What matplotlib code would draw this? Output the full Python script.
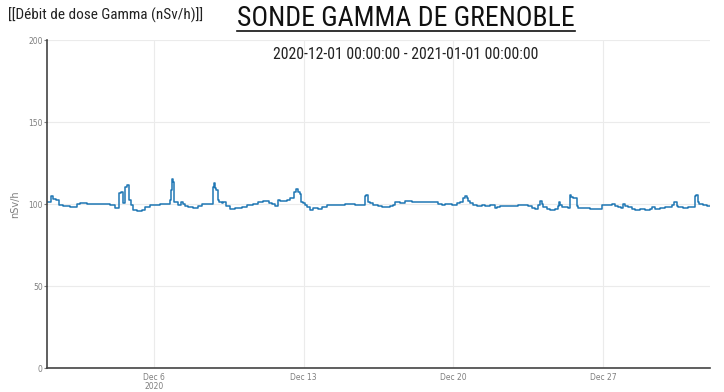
import numpy as np
import matplotlib.pyplot as plt
from matplotlib.lines import Line2D

NARROW = ['Roboto Condensed', 'Liberation Sans Narrow', 'DejaVu Sans']

# step starts, in days since 2020-12-01, and dose rate (nSv/h)
days = [0.00, 0.19, 0.28, 0.40, 0.56, 0.75, 1.08, 1.40, 1.54, 1.87, 2.24, 2.71, 2.95,
        3.18, 3.37, 3.46, 3.55, 3.65, 3.74, 3.83, 3.93, 4.02, 4.21, 4.44, 4.58, 4.82,
        5.28, 5.75, 5.80, 5.84, 5.89, 5.94, 6.12, 6.26, 6.36, 6.45, 6.59, 6.83, 7.06,
        7.25, 7.39, 7.76, 7.81, 7.85, 7.90, 7.99, 8.04, 8.18, 8.23, 8.37, 8.56, 8.79,
        9.12, 9.35, 9.63, 9.86, 10.10, 10.38, 10.52, 10.66, 10.80, 10.89, 11.03, 11.22,
        11.36, 11.55, 11.64, 11.73, 11.83, 11.87, 11.97, 12.06, 12.16, 12.30, 12.44,
        12.67, 12.86, 13.09, 13.60, 13.93, 14.40, 14.87, 14.91, 15.01, 15.10, 15.24,
        15.38, 15.47, 15.66, 16.04, 16.18, 16.27, 16.50, 16.74, 17.06, 17.34, 17.53,
        18.28, 18.47, 18.61, 18.93, 19.17, 19.31, 19.45, 19.54, 19.64, 19.68, 19.78,
        19.92, 20.10, 20.34, 20.48, 20.71, 20.94, 21.04, 21.18, 22.02, 22.49, 22.67,
        22.81, 22.95, 23.05, 23.14, 23.19, 23.38, 23.52, 23.75, 23.89, 23.94, 23.98,
        24.08, 24.36, 24.45, 24.50, 24.59, 24.78, 24.82, 25.15, 25.38, 25.95, 26.41,
        26.56, 26.69, 26.84, 26.93, 27.02, 27.16, 27.35, 27.49, 27.73, 27.96, 28.19,
        28.29, 28.42, 28.66, 28.89, 29.22, 29.31, 29.45, 29.50, 29.73, 29.97, 30.29,
        30.34, 30.43, 30.48, 30.67, 30.86, 31.00]
dose = [101.3, 105.2, 103.2, 102.7, 99.7, 99.1, 98.7, 100.1, 100.7, 100.3, 100.5, 100.3, 99.5,
        98.1, 106.8, 107.8, 101.0, 110.9, 111.9, 102.7, 99.7, 96.6, 96.2, 96.6, 98.3, 99.7,
        100.3, 102.7, 108.8, 115.4, 113.9, 101.7, 99.9, 101.5, 100.3, 99.1, 98.7, 98.1, 98.9,
        100.1, 100.5, 110.9, 113.3, 110.0, 108.8, 102.7, 101.3, 100.7, 101.7, 99.1, 97.3, 97.7,
        98.3, 99.7, 100.1, 101.3, 102.1, 101.0, 100.1, 99.1, 102.7, 102.3, 101.9, 102.7,
        103.8, 107.8, 109.6, 107.8, 106.4, 101.5, 100.7, 99.7, 98.3, 96.8, 97.7,
        97.1, 98.3, 99.7, 99.5, 100.1, 99.9, 105.2, 105.8, 101.5, 100.7, 99.7,
        99.9, 99.1, 98.7, 99.1, 99.7, 101.3, 100.9, 101.9, 101.3, 101.7, 101.3,
        100.1, 99.9, 100.1, 99.9, 101.0, 101.7, 103.8, 105.4, 104.2, 102.1, 100.9,
        99.5, 99.1, 99.9, 99.1, 99.9, 98.1, 98.7, 99.1, 99.9, 99.1, 98.1,
        97.3, 99.7, 102.1, 100.1, 98.7, 97.3, 96.6, 97.3, 99.1, 101.3, 99.9,
        98.3, 98.1, 106.0, 104.6, 104.2, 99.1, 98.1, 97.7, 97.1, 99.5, 100.1,
        99.3, 98.3, 97.7, 100.3, 99.3, 98.3, 97.5, 96.6, 97.1, 96.6, 97.5,
        98.3, 97.5, 98.1, 98.7, 99.7, 101.3, 99.1, 98.7, 97.9, 98.3, 105.2,
        105.8, 101.5, 100.5, 99.9, 99.3, 99.3]

yticks = [0, 50, 100, 150, 200]
xtick_dates = ['2020-12-06', '2020-12-13', '2020-12-20', '2020-12-27']
xtick_labels = ['Dec 6\n2020', 'Dec 13', 'Dec 20', 'Dec 27']

start = np.datetime64('2020-12-01T00:00')
times = start + (np.array(days) * 24 * 60).astype(int).astype('timedelta64[m]')

fig = plt.figure(figsize=(7.24, 3.92), dpi=100)
ax = fig.add_axes([0.0649, 0.06, 0.9158, 0.8367])

ax.plot(times, dose, drawstyle='steps-post', color='#1f77b4', lw=1.1)

ax.set_ylim(0, 200)
ax.set_xlim(np.datetime64('2020-12-01T00:00'), np.datetime64('2021-01-01T00:00'))
ax.set_yticks(yticks)
ax.set_xticks([np.datetime64(d) for d in xtick_dates])
ax.set_xticklabels(xtick_labels, linespacing=1.1)

ax.grid(True, color='#ebebeb', lw=0.8)
ax.set_axisbelow(True)
for s in ['top', 'right']:
    ax.spines[s].set_visible(False)
for s in ['left', 'bottom']:
    ax.spines[s].set_color('#444444')
    ax.spines[s].set_linewidth(1.2)
ax.tick_params(axis='y', labelsize=5.5, colors='#7f7f7f', length=2, pad=1)
ax.tick_params(axis='x', labelsize=5.5, colors='#7f7f7f', length=0, pad=3)
ax.set_ylabel('nSv/h', fontsize=7, color='#7f7f7f', labelpad=6)

fig.text(0.011, 0.962, '[[Débit de dose Gamma (nSv/h)]]', fontsize=11,
         family=NARROW, va='center', ha='left', color='#222222')
title = fig.text(0.561, 0.952, 'SONDE GAMMA DE GRENOBLE', fontsize=20,
                 family=NARROW, va='center', ha='center', color='#111111')
fig.text(0.561, 0.860, '2020-12-01 00:00:00 - 2021-01-01 00:00:00', fontsize=11.3,
         family=NARROW, va='center', ha='center', color='#222222')

# underline the title
fig.canvas.draw()
bb = title.get_window_extent().transformed(fig.transFigure.inverted())
fig.add_artist(Line2D([bb.x0, bb.x1], [bb.y0 + 0.004, bb.y0 + 0.004],
                      transform=fig.transFigure, color='#111111', lw=1.2))

fig.savefig('out.png', dpi=100)
